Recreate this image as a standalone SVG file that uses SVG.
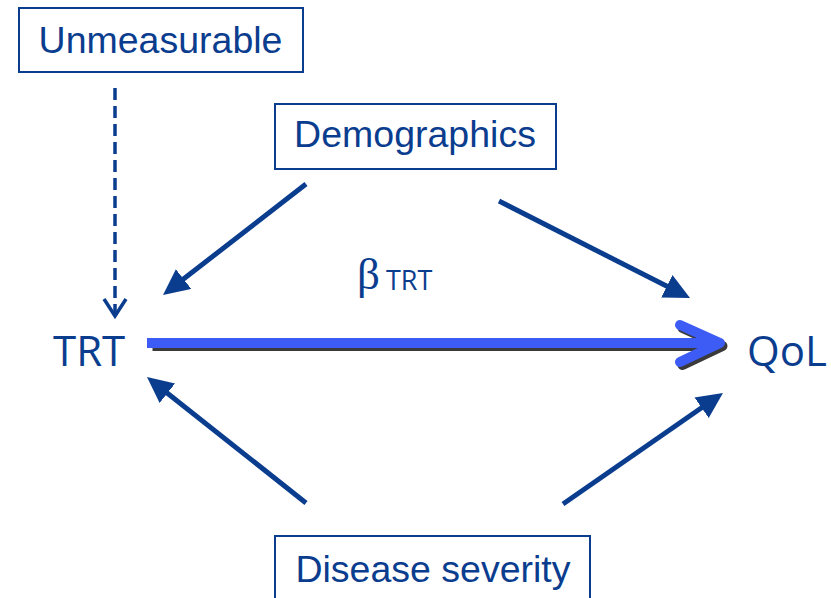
<svg xmlns="http://www.w3.org/2000/svg" width="831" height="598" viewBox="0 0 831 598">
<defs>
<style>
.box{fill:#fff;stroke:#0b3d8f;stroke-width:2}
.lbl{font-family:"Liberation Sans",Arial,sans-serif;font-size:37.5px;fill:#0b3d8f;text-anchor:middle}
.var{font-family:"Open Sans","Noto Sans",sans-serif;font-size:42px;fill:#0b3d8f}
.conn{stroke:#0b3d8f;stroke-width:5;fill:none;marker-end:url(#tri)}
</style>
<marker id="tri" markerUnits="userSpaceOnUse" markerWidth="27" markerHeight="26" refX="14" refY="12.5" orient="auto" viewBox="0 0 27 26">
<path d="M0,0 L26,12.5 L0,25 z" fill="#0b3d8f"/>
</marker>
</defs>
<rect width="831" height="598" fill="#fff"/>
<g id="connectors">
<path d="M115,88 L115,316" stroke="#0b3d8f" stroke-width="3.5" stroke-dasharray="12 6" fill="none"/>
<path d="M104,299 L115,316 L126,299" stroke="#0b3d8f" stroke-width="3.5" fill="none"/>
<line class="conn" x1="306" y1="184" x2="172.5" y2="287.6"/>
<line class="conn" x1="499" y1="201" x2="679.3" y2="292.6"/>
<line class="conn" x1="306" y1="503" x2="156.4" y2="384.5"/>
<line class="conn" x1="563" y1="504" x2="713.1" y2="399.8"/>
<g id="beta-arrow">
<g transform="translate(2.5,3)" stroke="#3a3a3a" fill="none" stroke-width="10">
<path d="M150,343 L716,343"/>
<path d="M680,325 L720,343 L680,362" stroke-linecap="round" stroke-linejoin="round"/>
</g>
<g stroke="#3d5cf5" fill="none" stroke-width="10">
<path d="M147,343 L716,343"/>
<path d="M680,325 L720,343 L680,362" stroke-linecap="round" stroke-linejoin="round"/>
</g>
</g>
</g>
<g id="unmeasurable">
<rect class="box" x="19" y="8" width="284" height="64"/>
<text class="lbl" x="160.5" y="53">Unmeasurable</text>
</g>
<g id="demographics">
<rect class="box" x="275" y="104" width="281" height="65"/>
<text class="lbl" x="415" y="147">Demographics</text>
</g>
<g id="disease-severity">
<rect class="box" x="275" y="536" width="315" height="80"/>
<text class="lbl" x="433" y="582">Disease severity</text>
</g>
<g id="trt">
<text class="var" x="53" y="366">TRT</text>
</g>
<g id="qol">
<text class="var" x="747" y="366">QoL</text>
</g>
<g id="beta-label">
<text x="357" y="289" font-family="Liberation Serif,serif" font-size="45" fill="#0b3d8f">β</text>
<text x="386" y="290" font-family="Open Sans,Noto Sans,sans-serif" font-size="27" fill="#0b3d8f">TRT</text>
</g>
</svg>
